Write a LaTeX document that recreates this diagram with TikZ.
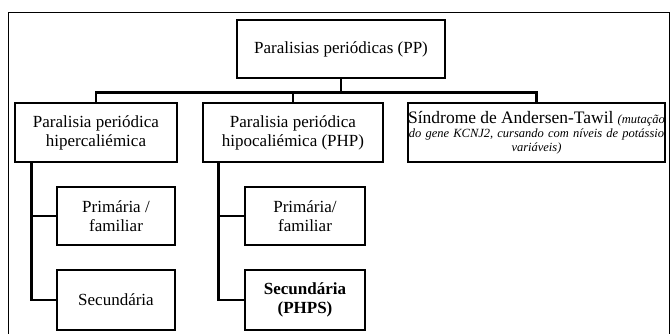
\documentclass[tikz,border=0pt]{standalone}
\usepackage{fontspec}
\setmainfont{Liberation Serif}
\usetikzlibrary{positioning}

\newcommand{\linhaAT}[1]{\makebox[257pt]{#1}}

\begin{document}
\begin{tikzpicture}[x=1pt,y=-1pt]
\tikzset{caixa/.style={draw,rectangle,line width=2.6pt,align=center,inner sep=0pt,font=\fontsize{17}{19}\selectfont},
  liga/.style={line width=2.6pt}}
\useasboundingbox (0,0) rectangle (670,334);
% Moldura
\draw[line width=0.9pt] (8,340) -- (8,12) -- (669,12) -- (669,340);
% Nodos
\node [caixa, minimum width=208pt, minimum height=58pt] (PP) at (341,49) {Paralisias periódicas (PP)};
\node [caixa, minimum width=162pt, minimum height=59pt] (hiper) at (96,132.5) {Paralisia periódica\\hipercaliémica};
\node [caixa, minimum width=180pt, minimum height=59pt] (hipo) at (293,132.5) {Paralisia periódica\\hipocaliémica (PHP)};
\node [caixa, text width=257pt, minimum height=59pt, font=\fontsize{12.5}{14}\selectfont] (AT) at (536.5,132.5)
  {\linhaAT{{\fontsize{17.5}{19}\selectfont Síndrome de Andersen-Tawil} \textit{(mutação}}\\
   \linhaAT{\textit{do gene KCNJ2, cursando com níveis de potássio}}\\
   \linhaAT{\textit{variáveis)}}};
\node [caixa, minimum width=118pt, minimum height=58pt] (prim1) at (116,216) {Primária /\\familiar};
\node [caixa, minimum width=118pt, minimum height=60pt] (sec1) at (116,300) {Secundária};
\node [caixa, minimum width=120pt, minimum height=58pt] (prim2) at (305,216) {Primária/\\familiar};
\node [caixa, minimum width=120pt, minimum height=60pt] (sec2) at (305,300) {\textbf{Secundária}\\\textbf{(PHPS)}};
% Ligacoes
\draw [liga] (PP.south) -- ++(0,13) coordinate (barra);
\draw [liga] (barra) -| (hiper.north);
\draw [liga] (barra) -| (hipo.north);
\draw [liga] (barra) -| (AT.north);
\draw [liga] ([xshift=18pt]hiper.south west) |- (prim1.west);
\draw [liga] ([xshift=18pt]hiper.south west) |- (sec1.west);
\draw [liga] ([xshift=17pt]hipo.south west) |- (prim2.west);
\draw [liga] ([xshift=17pt]hipo.south west) |- (sec2.west);
\end{tikzpicture}
\end{document}
